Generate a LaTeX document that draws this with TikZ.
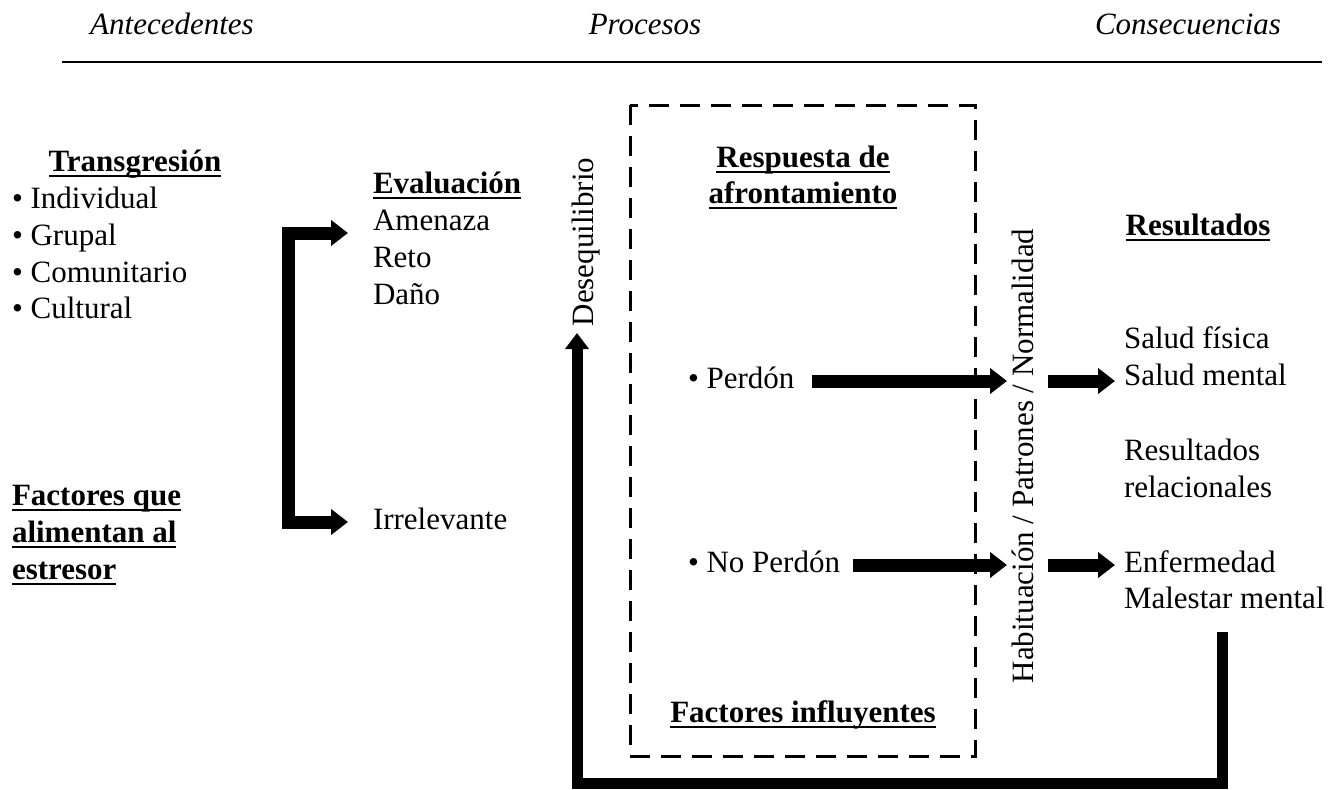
\documentclass[tikz,border=0pt]{standalone}
\usepackage{fontspec}
\setmainfont{Liberation Serif}
\usetikzlibrary{arrows.meta}
\newcommand\myul[1]{\setbox0\hbox{#1}\rlap{\rule[-6bp]{\wd0}{2.5bp}}\box0}
\begin{document}
\begin{tikzpicture}[x=1bp,y=-1bp,
  every node/.style={inner sep=0pt,outer sep=0pt,font=\fontsize{31bp}{37bp}\selectfont},
  txt/.style={anchor=base west},
  ctr/.style={anchor=base},
  hd/.style={anchor=base,font=\fontsize{31bp}{37bp}\selectfont\itshape},
  bold/.style={font=\fontsize{31bp}{37bp}\selectfont\bfseries},
  vert/.style={rotate=90,anchor=base},
  bigarrow/.style={line width=13bp,-{Triangle[length=17bp,width=25bp]}},
  bracket/.style={line width=13bp,line join=miter,{Triangle[length=17bp,width=25bp]}-{Triangle[length=17bp,width=25bp]}},
  loopline/.style={line width=11bp,line join=miter,-{Triangle[length=16bp,width=23bp]}},
  dashbox/.style={line width=3bp,dash pattern=on 20bp off 11bp}
]
\fill[white] (0,0) rectangle (1329,789);
\useasboundingbox (0,0) rectangle (1329,789);

% header
\node[hd] (hA) at (172,35) {Antecedentes};
\node[hd] (hP) at (645,35) {Procesos};
\node[hd] (hC) at (1188,35) {Consecuencias};
\coordinate (rl) at (62,62);
\coordinate (rr) at (1322,62);
\draw[line width=2.5bp] (rl) -- (rr);

% left column
\node[ctr,bold] (trans) at (135,171) {\myul{Transgresión}};
\node[txt] (i1) at (12,208) {• Individual};
\node[txt] (i2) at (12,245) {• Grupal};
\node[txt] (i3) at (12,282) {• Comunitario};
\node[txt] (i4) at (12,318) {• Cultural};
\node[txt,bold] (f1) at (12,505) {\myul{Factores que}};
\node[txt,bold] (f2) at (12,542) {\myul{alimentan al}};
\node[txt,bold] (f3) at (12,579) {\myul{estresor}};

% evaluation
\node[txt,bold] (ev) at (373,193) {\myul{Evaluación}};
\node[txt] (am) at (373,230) {Amenaza};
\node[txt] (re) at (373,267) {Reto};
\node[txt] (da) at (373,304) {Daño};
\node[txt] (ir) at (373,529) {Irrelevante};
\coordinate (bt) at (348,233);
\coordinate (bb) at (348,522);
\draw[bracket] (bt) -- (288,233) -- (288,522) -- (bb);

% desequilibrio
\node[vert] (des) at (593,242) {Desequilibrio};

% dashed box
\draw[dashbox] (630,105) rectangle (975,756);
\node[ctr,bold] (r1) at (803,167) {\myul{Respuesta de}};
\node[ctr,bold] (r2) at (803,203) {\myul{afrontamiento}};
\node[txt] (per) at (688,388) {• Perdón};
\node[txt] (nper) at (688,572) {• No Perdón};
\node[ctr,bold] (fi) at (803,722) {\myul{Factores influyentes}};

% habituation
\node[vert] (hab) at (1033,456) {Habituación / Patrones / Normalidad};

% arrows
\coordinate (pa) at (812,381);
\coordinate (pb) at (1007,381);
\coordinate (na) at (853,565);
\coordinate (nb) at (1007,565);
\coordinate (pc) at (1048,381);
\coordinate (pd) at (1115,381);
\coordinate (nc) at (1048,565);
\coordinate (nd) at (1115,565);
\draw[bigarrow] (pa) -- (pb);
\draw[bigarrow] (na) -- (nb);
\draw[bigarrow] (pc) -- (pd);
\draw[bigarrow] (nc) -- (nd);

% results
\node[ctr,bold] (res) at (1198,235) {\myul{Resultados}};
\node[txt] (s1) at (1124,348) {Salud física};
\node[txt] (s2) at (1124,385) {Salud mental};
\node[txt] (s3) at (1124,460) {Resultados};
\node[txt] (s4) at (1124,497) {relacionales};
\node[txt] (s5) at (1124,572) {Enfermedad};
\node[txt] (s6) at (1124,608) {Malestar mental};

% feedback loop
\coordinate (la) at (1222,632);
\coordinate (lb) at (577,333);
\draw[loopline] (la) -- (1222,783) -- (577,783) -- (lb);
\end{tikzpicture}
\end{document}
